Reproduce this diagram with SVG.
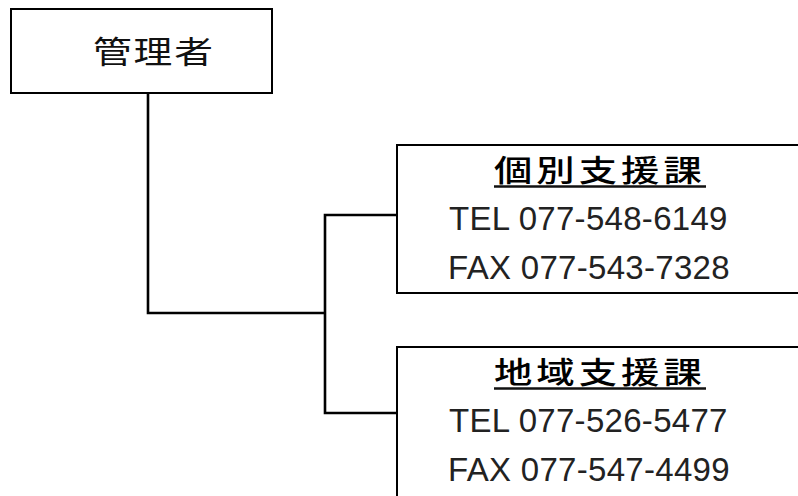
<svg xmlns="http://www.w3.org/2000/svg" width="798" height="496" viewBox="0 0 798 496">
<style>
.box{fill:#fff;stroke:#000;stroke-width:2}
.ln{fill:none;stroke:#000;stroke-width:2.6}
.jp{font-family:"Noto Sans CJK JP",sans-serif;font-size:31px;fill:#111;letter-spacing:1.5px}
.h{font-family:"Noto Sans CJK JP",sans-serif;font-size:29.5px;font-weight:500;fill:#000;letter-spacing:3.1px}
.num{font-family:"Liberation Sans",Arial,sans-serif;font-size:33px;fill:#222;letter-spacing:0.3px}
.ul{stroke:#111;stroke-width:2.4}
</style>
<rect width="798" height="496" fill="#fff"/>
<g id="connectors">
<polyline class="ln" points="148,93 148,313 325,313"/>
<polyline class="ln" points="397,215 325,215 325,413 397,413"/>
</g>
<g id="manager">
<rect class="box" x="11" y="9" width="261" height="84"/>
<text class="jp" transform="translate(93,63) scale(1.25,1)">管理者</text>
</g>
<g id="kobetsu">
<rect class="box" x="397" y="145" width="420" height="148"/>
<text class="h" transform="translate(494,181) scale(1.3,1)">個別支援課</text>
<line class="ul" x1="494" y1="186.5" x2="706" y2="186.5"/>
<text class="num" x="449" y="230">TEL 077-548-6149</text>
<text class="num" x="448" y="279">FAX 077-543-7328</text>
</g>
<g id="chiiki">
<rect class="box" x="397" y="347" width="420" height="160"/>
<text class="h" transform="translate(494,383) scale(1.3,1)">地域支援課</text>
<line class="ul" x1="494" y1="388.5" x2="706" y2="388.5"/>
<text class="num" x="449" y="432">TEL 077-526-5477</text>
<text class="num" x="448" y="481">FAX 077-547-4499</text>
</g>
</svg>
